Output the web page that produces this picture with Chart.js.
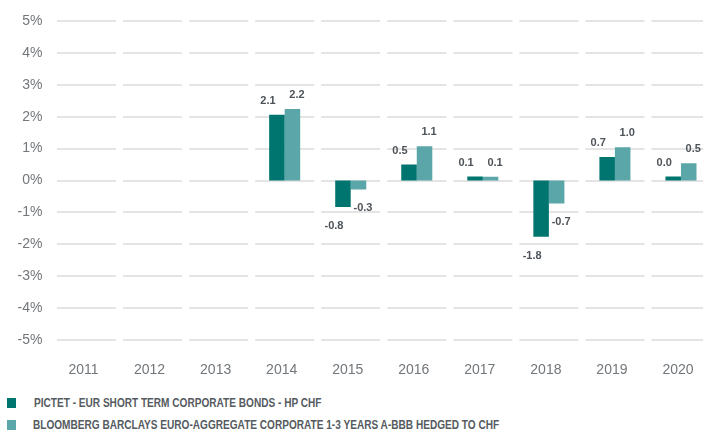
<!DOCTYPE html>
<html>
<head>
<meta charset="utf-8">
<script src="https://cdn.jsdelivr.net/npm/chart.js@4.4.1/dist/chart.umd.min.js"></script>
<style>
  html,body{margin:0;padding:0;background:#fff;overflow:hidden;width:703px;height:435px}
  #wrap{position:relative;width:720px;height:390px}
  #legend{position:absolute;left:0;top:392px;font-family:"Liberation Sans",Arial,sans-serif;font-weight:bold;font-size:12px;color:#555b60}
  .item{position:relative;height:22px;line-height:22px}
  .box{position:absolute;left:7px;top:6px;width:9px;height:10px}
  .txt{position:absolute;left:34px;top:0;white-space:nowrap;transform:scaleX(0.84);transform-origin:0 50%}
</style>
</head>
<body>
<div id="wrap"><canvas id="c" width="720" height="390"></canvas></div>
<div id="legend"></div>
<script>
const years=['2011','2012','2013','2014','2015','2016','2017','2018','2019','2020'];
const fund=[null,null,null,2.06,-0.83,0.5,0.12,-1.76,0.74,0.04];
const bench=[null,null,null,2.24,-0.28,1.07,0.12,-0.72,1.04,0.54];
const names=['PICTET - EUR SHORT TERM CORPORATE BONDS - HP CHF','BLOOMBERG BARCLAYS EURO-AGGREGATE CORPORATE 1-3 YEARS A-BBB HEDGED TO CHF'];
const colors=['#00756f','#5aa6a8'];

// grid drawn as one segment per category, with small gaps between
const segGrid={id:'segGrid',beforeDatasetsDraw(chart){
  const {ctx,scales:{x,y}}=chart;
  const w=x.width/years.length;
  ctx.save(); ctx.strokeStyle='#e4e4e4'; ctx.lineWidth=2;
  y.ticks.forEach(t=>{
    const py=Math.round(y.getPixelForValue(t.value));
    years.forEach((_,i)=>{
      const cx=x.getPixelForValue(i);
      ctx.beginPath(); ctx.moveTo(cx-w/2+3.5,py); ctx.lineTo(cx+w/2-3.5,py); ctx.stroke();
    });
  });
  ctx.restore();
}};

const valLabels={id:'valLabels',afterDatasetsDraw(chart){
  const ctx=chart.ctx; ctx.save();
  ctx.font='bold 11px "Liberation Sans", Arial, sans-serif'; ctx.fillStyle='#4d5358';
  ctx.textAlign='center'; ctx.textBaseline='middle';
  chart.data.datasets.forEach((ds,di)=>{
    chart.getDatasetMeta(di).data.forEach((bar,i)=>{
      const v=ds.data[i]; if(v==null) return;
      const dx=di===0?-9:4.5;
      const dy=v>=0?-14:19;
      ctx.fillText(v.toFixed(1),bar.x+dx,bar.y+dy);
    });
  });
  ctx.restore();
}};

const chart=new Chart(document.getElementById('c'),{
  type:'bar',
  data:{labels:years,datasets:[
    {label:names[0],data:fund,backgroundColor:colors[0],minBarLength:4},
    {label:names[1],data:bench,backgroundColor:colors[1]}
  ]},
  options:{
    responsive:false,animation:false,
    layout:{padding:{top:21,right:6,left:0,bottom:0}},
    datasets:{bar:{categoryPercentage:0.47,barPercentage:1}},
    plugins:{legend:{display:false},tooltip:{enabled:false}},
    scales:{
      x:{grid:{display:false,drawTicks:false},border:{display:false},
        ticks:{padding:22,labelOffset:-3,color:'#72777b',font:{family:'"Liberation Sans", Arial, sans-serif',size:14}},
        afterFit(s){s.height=50;}},
      y:{min:-5,max:5,grid:{display:false,drawTicks:false},border:{display:false},
        ticks:{stepSize:1,padding:11,color:'#72777b',font:{family:'"Liberation Sans", Arial, sans-serif',size:14},callback:v=>v+'%'},
        afterFit(s){s.width=53.5;}}
    }
  },
  plugins:[segGrid,valLabels]
});

const lg=document.getElementById('legend');
names.forEach((n,i)=>{
  const it=document.createElement('div'); it.className='item';
  const b=document.createElement('span'); b.className='box'; b.style.background=colors[i];
  const t=document.createElement('span'); t.className='txt'; t.textContent=n;
  if(i===1) t.style.left='33px';
  it.appendChild(b); it.appendChild(t); lg.appendChild(it);
});
</script>
</body>
</html>
